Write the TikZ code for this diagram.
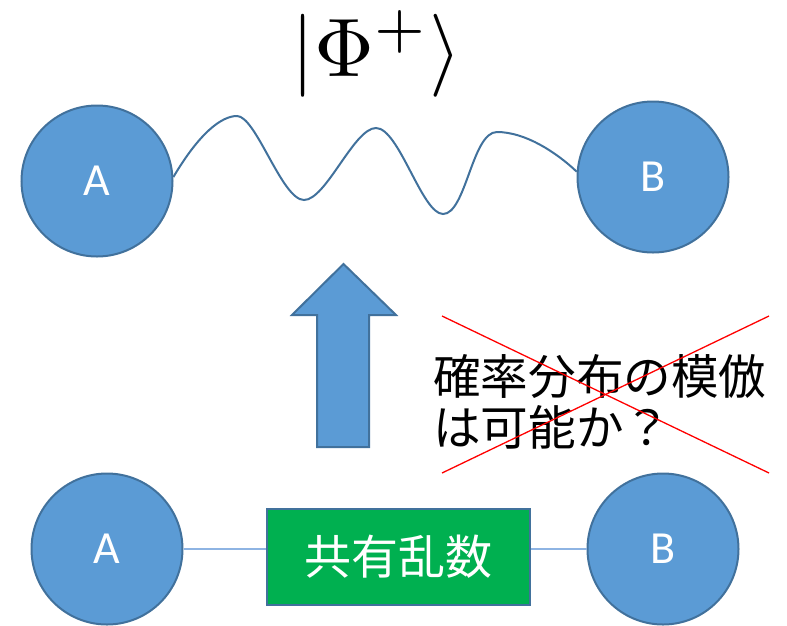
\documentclass[tikz,border=0pt]{standalone}
\usepackage{fontspec}
\setsansfont{Carlito}
\newfontfamily\cjk{Noto Sans CJK JP}
\definecolor{cfill}{HTML}{5B9BD5}
\definecolor{cedge}{HTML}{41719C}
\definecolor{cgreen}{HTML}{00B050}
\definecolor{clink}{HTML}{8EB4E3}
\begin{document}
\begin{tikzpicture}[x=1pt,y=-1pt,
  party/.style={circle, minimum size=151pt, inner sep=0pt, fill=cfill, draw=cedge, line width=2pt,
    text=white, font=\sffamily\fontsize{46}{50}\selectfont},
  wave/.style={draw=cedge, line width=2pt},
  link/.style={draw=clink, line width=1.6pt},
  randbox/.style={rectangle, minimum width=263pt, minimum height=96pt, inner sep=0pt, fill=cgreen,
    draw=cedge, line width=2pt, text=white, font=\cjk\fontsize{47}{50}\selectfont},
  bigarrow/.style={fill=cfill, draw=cedge, line width=2pt, line join=miter},
  cross/.style={draw=red, line width=1.3pt},
  jtext/.style={anchor=base west, inner sep=0pt, font=\cjk\fontsize{47.6}{50}\selectfont}]
\useasboundingbox (0,0) rectangle (787,625);

% ket
\node[scale=8.3, inner sep=0pt] (ket) at (377,54) {$|\Phi^{+}\rangle$};

% top parties
\node[party] (A1) at (97,181) {A};
\node[party] (B1) at (653,177) {B};
\draw[wave] (A1.3) .. controls (200,132) and (222,116) .. (237,116)
  .. controls (256,116) and (282,200) .. (304,200)
  .. controls (326,200) and (354,128) .. (376,128)
  .. controls (399,128) and (422,214) .. (443,214)
  .. controls (466,214) and (472,132) .. (497,132)
  .. controls (525,132) and (556,152) .. (B1.176);

% arrow
\draw[bigarrow] (317,447) -- (317,315) -- (292,315) -- (343.5,264) -- (396,315) -- (369,315) -- (369,447) -- cycle;

% question text
\node[jtext] (q1) at (433,394) {確率分布の模倣};
\node[jtext] (q2) at (433,445) {は可能か？};
\coordinate (c1) at (442,316);
\coordinate (c2) at (769,473);
\coordinate (c3) at (442,473);
\coordinate (c4) at (769,316);
\draw[cross] (c1) -- (c2);
\draw[cross] (c3) -- (c4);

% bottom parties
\node[party] (A2) at (107,549) {A};
\node[party] (B2) at (663,549) {B};
\node[randbox] (R) at (398.5,557) {共有乱数};
\draw[link] (A2.east) -- (A2.east -| R.west);
\draw[link] (B2.west -| R.east) -- (B2.west);
\end{tikzpicture}
\end{document}
